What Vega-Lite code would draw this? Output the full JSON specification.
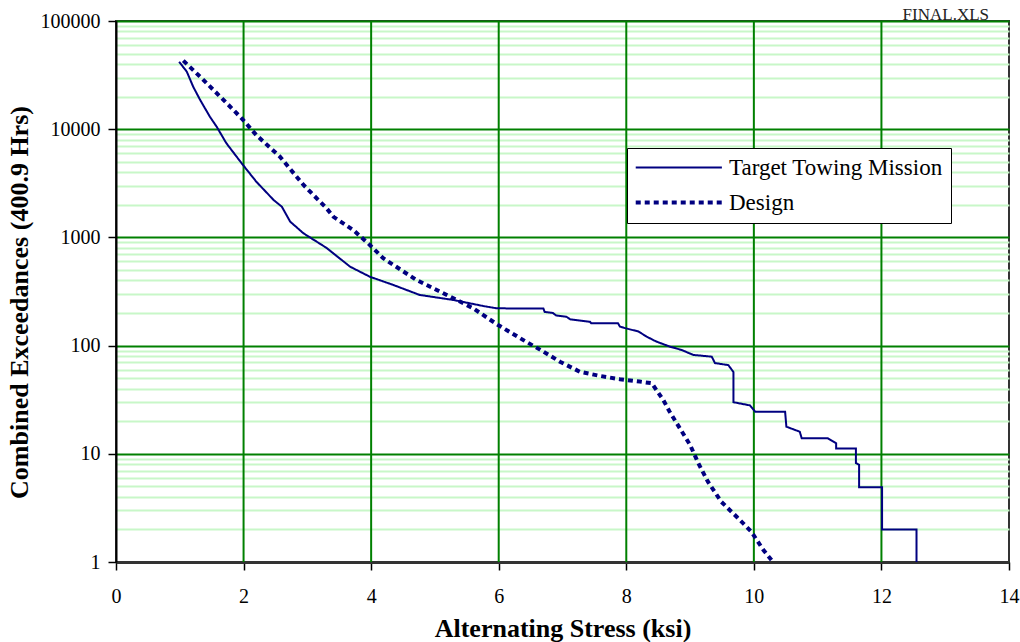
{
  "$schema": "https://vega.github.io/schema/vega-lite/v6.json",
  "width": 893,
  "height": 541,
  "autosize": {"type": "none"},
  "padding": {"left": 116, "top": 21, "right": 11, "bottom": 80},
  "background": "white",
  "title": {
    "text": "FINAL.XLS",
    "anchor": "end",
    "font": "Liberation Serif",
    "fontSize": 17,
    "fontWeight": "normal",
    "color": "#222",
    "offset": -13,
    "dx": -30
  },
  "config": {
    "view": {"stroke": "#333", "strokeWidth": 2},
    "font": "Liberation Serif"
  },
  "encoding": {
    "x": {
      "field": "x",
      "type": "quantitative",
      "scale": {"domain": [0, 14], "nice": false},
      "axis": {
        "title": "Alternating Stress (ksi)",
        "values": [0, 2, 4, 6, 8, 10, 12, 14],
        "format": "d",
        "grid": false,
        "domainColor": "#333",
        "domainWidth": 3,
        "tickColor": "black",
        "tickWidth": 1.5,
        "tickSize": 8,
        "labelFont": "Liberation Serif",
        "labelFontSize": 20,
        "labelColor": "black",
        "labelPadding": 16,
        "labelFlush": false,
        "titleFont": "Liberation Serif",
        "titleFontSize": 26,
        "titleFontWeight": "bold",
        "titleColor": "black",
        "titlePadding": 9
      }
    }
  },
  "layer": [
    {
      "data": {"values": [{"x": 2}, {"x": 4}, {"x": 6}, {"x": 8}, {"x": 10}, {"x": 12}]},
      "mark": {"type": "rule", "color": "#008000", "strokeWidth": 2},
      "encoding": {}
    },
    {
      "data": {
        "values": [
          {"series": "Target Towing Mission", "x": 0.99, "y": 42000},
          {"series": "Target Towing Mission", "x": 1.11, "y": 34000},
          {"series": "Target Towing Mission", "x": 1.21, "y": 24700},
          {"series": "Target Towing Mission", "x": 1.32, "y": 18600},
          {"series": "Target Towing Mission", "x": 1.47, "y": 13100},
          {"series": "Target Towing Mission", "x": 1.58, "y": 10500},
          {"series": "Target Towing Mission", "x": 1.73, "y": 7420},
          {"series": "Target Towing Mission", "x": 1.97, "y": 4840},
          {"series": "Target Towing Mission", "x": 2.2, "y": 3270},
          {"series": "Target Towing Mission", "x": 2.47, "y": 2220},
          {"series": "Target Towing Mission", "x": 2.6, "y": 1920},
          {"series": "Target Towing Mission", "x": 2.73, "y": 1400},
          {"series": "Target Towing Mission", "x": 2.94, "y": 1090},
          {"series": "Target Towing Mission", "x": 3.3, "y": 800},
          {"series": "Target Towing Mission", "x": 3.67, "y": 536},
          {"series": "Target Towing Mission", "x": 3.98, "y": 433},
          {"series": "Target Towing Mission", "x": 4.35, "y": 363},
          {"series": "Target Towing Mission", "x": 4.76, "y": 294},
          {"series": "Target Towing Mission", "x": 5.29, "y": 264},
          {"series": "Target Towing Mission", "x": 5.76, "y": 232},
          {"series": "Target Towing Mission", "x": 5.97, "y": 221},
          {"series": "Target Towing Mission", "x": 6.7, "y": 220},
          {"series": "Target Towing Mission", "x": 6.72, "y": 205},
          {"series": "Target Towing Mission", "x": 6.85, "y": 200},
          {"series": "Target Towing Mission", "x": 6.9, "y": 190},
          {"series": "Target Towing Mission", "x": 7.06, "y": 185},
          {"series": "Target Towing Mission", "x": 7.12, "y": 175},
          {"series": "Target Towing Mission", "x": 7.43, "y": 166},
          {"series": "Target Towing Mission", "x": 7.45, "y": 161},
          {"series": "Target Towing Mission", "x": 7.87, "y": 161},
          {"series": "Target Towing Mission", "x": 7.9, "y": 150},
          {"series": "Target Towing Mission", "x": 7.98, "y": 145},
          {"series": "Target Towing Mission", "x": 8.19, "y": 135},
          {"series": "Target Towing Mission", "x": 8.32, "y": 121},
          {"series": "Target Towing Mission", "x": 8.47, "y": 109},
          {"series": "Target Towing Mission", "x": 8.68, "y": 98},
          {"series": "Target Towing Mission", "x": 8.87, "y": 91},
          {"series": "Target Towing Mission", "x": 9.05, "y": 82},
          {"series": "Target Towing Mission", "x": 9.34, "y": 79},
          {"series": "Target Towing Mission", "x": 9.39, "y": 69},
          {"series": "Target Towing Mission", "x": 9.6, "y": 66},
          {"series": "Target Towing Mission", "x": 9.68, "y": 57},
          {"series": "Target Towing Mission", "x": 9.68, "y": 30},
          {"series": "Target Towing Mission", "x": 9.94, "y": 28},
          {"series": "Target Towing Mission", "x": 10.02, "y": 24.5},
          {"series": "Target Towing Mission", "x": 10.49, "y": 24.5},
          {"series": "Target Towing Mission", "x": 10.51, "y": 17.8},
          {"series": "Target Towing Mission", "x": 10.72, "y": 16},
          {"series": "Target Towing Mission", "x": 10.75, "y": 13.9},
          {"series": "Target Towing Mission", "x": 11.16, "y": 13.9},
          {"series": "Target Towing Mission", "x": 11.29, "y": 12.5},
          {"series": "Target Towing Mission", "x": 11.29, "y": 11.2},
          {"series": "Target Towing Mission", "x": 11.6, "y": 11.2},
          {"series": "Target Towing Mission", "x": 11.6, "y": 8.2},
          {"series": "Target Towing Mission", "x": 11.65, "y": 7.9},
          {"series": "Target Towing Mission", "x": 11.65, "y": 4.9},
          {"series": "Target Towing Mission", "x": 12.01, "y": 4.9},
          {"series": "Target Towing Mission", "x": 12.01, "y": 2},
          {"series": "Target Towing Mission", "x": 12.55, "y": 2},
          {"series": "Target Towing Mission", "x": 12.55, "y": 1},
          {"series": "Design", "x": 1.055, "y": 43000},
          {"series": "Design", "x": 1.32, "y": 30500},
          {"series": "Design", "x": 1.66, "y": 19300},
          {"series": "Design", "x": 1.97, "y": 12600},
          {"series": "Design", "x": 2.2, "y": 8830},
          {"series": "Design", "x": 2.57, "y": 5570},
          {"series": "Design", "x": 2.94, "y": 3050},
          {"series": "Design", "x": 3.3, "y": 1860},
          {"series": "Design", "x": 3.41, "y": 1550},
          {"series": "Design", "x": 3.72, "y": 1170},
          {"series": "Design", "x": 3.98, "y": 851},
          {"series": "Design", "x": 4.19, "y": 641},
          {"series": "Design", "x": 4.71, "y": 404},
          {"series": "Design", "x": 5.29, "y": 274},
          {"series": "Design", "x": 5.6, "y": 221},
          {"series": "Design", "x": 5.99, "y": 155},
          {"series": "Design", "x": 6.38, "y": 113},
          {"series": "Design", "x": 6.7, "y": 88},
          {"series": "Design", "x": 6.96, "y": 71},
          {"series": "Design", "x": 7.27, "y": 57.4},
          {"series": "Design", "x": 7.59, "y": 52.4},
          {"series": "Design", "x": 7.9, "y": 48.9},
          {"series": "Design", "x": 8.21, "y": 46.5},
          {"series": "Design", "x": 8.4, "y": 44.9},
          {"series": "Design", "x": 8.58, "y": 31.4},
          {"series": "Design", "x": 8.68, "y": 24.5},
          {"series": "Design", "x": 8.84, "y": 17.2},
          {"series": "Design", "x": 9.0, "y": 12.1},
          {"series": "Design", "x": 9.13, "y": 8.17},
          {"series": "Design", "x": 9.28, "y": 5.52},
          {"series": "Design", "x": 9.49, "y": 3.6},
          {"series": "Design", "x": 9.73, "y": 2.62},
          {"series": "Design", "x": 9.96, "y": 1.91},
          {"series": "Design", "x": 10.15, "y": 1.29},
          {"series": "Design", "x": 10.3, "y": 1.0}
        ]
      },
      "mark": {"type": "line", "clip": true, "strokeCap": "butt"},
      "encoding": {
        "y": {
          "field": "y",
          "type": "quantitative",
          "scale": {"type": "log", "domain": [1, 100000], "nice": false},
          "axis": {
            "title": "Combined Exceedances (400.9 Hrs)",
            "values": [1,2,3,4,5,6,7,8,9,10,20,30,40,50,60,70,80,90,100,200,300,400,500,600,700,800,900,1000,2000,3000,4000,5000,6000,7000,8000,9000,10000,20000,30000,40000,50000,60000,70000,80000,90000,100000],
            "format": "d",
            "labelExpr": "indexof([1,10,100,1000,10000,100000], datum.value) >= 0 ? datum.label : ''",
            "grid": true,
            "gridColor": {"condition": {"test": "indexof([1,10,100,1000,10000,100000], datum.value) >= 0", "value": "#008000"}, "value": "#c8f7c8"},
            "gridWidth": 2,
            "gridOpacity": 1,
            "tickOpacity": {"condition": {"test": "indexof([1,10,100,1000,10000,100000], datum.value) >= 0", "value": 1}, "value": 0},
            "domainColor": "black",
            "domainWidth": 2,
            "tickColor": "black",
            "tickWidth": 1.5,
            "tickSize": 8,
            "labelFont": "Liberation Serif",
            "labelFontSize": 20,
            "labelColor": "black",
            "labelPadding": 8,
            "labelFlush": false,
            "titleFont": "Liberation Serif",
            "titleFontSize": 26,
            "titleFontWeight": "bold",
            "titleColor": "black",
            "titlePadding": 8,
            "titleY": 281
          }
        },
        "color": {
          "field": "series",
          "type": "nominal",
          "scale": {"domain": ["Target Towing Mission", "Design"], "range": ["#000080", "#000080"]},
          "legend": {
            "title": null,
            "orient": "none",
            "legendX": 511,
            "legendY": 127,
            "padding": 8,
            "strokeColor": "black",
            "fillColor": "white",
            "symbolType": "M-2,0H14",
            "symbolSize": 116,
            "labelFont": "Liberation Serif",
            "labelFontSize": 23,
            "labelColor": "black",
            "labelOffset": 71,
            "rowPadding": 11,
            "labelLimit": 400,
            "encode": {
              "symbols": {
                "update": {
                  "strokeDash": {"signal": "datum.value === 'Design' ? [7, 2] : [1, 0]"},
                  "strokeWidth": {"signal": "datum.value === 'Design' ? 5 : 2"}
                }
              }
            }
          }
        },
        "strokeDash": {
          "field": "series",
          "type": "nominal",
          "scale": {"domain": ["Target Towing Mission", "Design"], "range": [[1, 0], [5, 4]]},
          "legend": {
            "title": null,
            "orient": "none",
            "legendX": 511,
            "legendY": 127,
            "padding": 8,
            "strokeColor": "black",
            "fillColor": "white",
            "symbolType": "M-2,0H14",
            "symbolSize": 116,
            "labelFont": "Liberation Serif",
            "labelFontSize": 23,
            "labelColor": "black",
            "labelOffset": 71,
            "rowPadding": 11,
            "labelLimit": 400,
            "encode": {
              "symbols": {
                "update": {
                  "strokeDash": {"signal": "datum.value === 'Design' ? [7, 2] : [1, 0]"},
                  "strokeWidth": {"signal": "datum.value === 'Design' ? 5 : 2"}
                }
              }
            }
          }
        },
        "strokeWidth": {
          "field": "series",
          "type": "nominal",
          "scale": {"domain": ["Target Towing Mission", "Design"], "range": [2, 4]},
          "legend": {
            "title": null,
            "orient": "none",
            "legendX": 511,
            "legendY": 127,
            "padding": 8,
            "strokeColor": "black",
            "fillColor": "white",
            "symbolType": "M-2,0H14",
            "symbolSize": 116,
            "labelFont": "Liberation Serif",
            "labelFontSize": 23,
            "labelColor": "black",
            "labelOffset": 71,
            "rowPadding": 11,
            "labelLimit": 400,
            "encode": {
              "symbols": {
                "update": {
                  "strokeDash": {"signal": "datum.value === 'Design' ? [7, 2] : [1, 0]"},
                  "strokeWidth": {"signal": "datum.value === 'Design' ? 5 : 2"}
                }
              }
            }
          }
        }
      }
    }
  ]
}
